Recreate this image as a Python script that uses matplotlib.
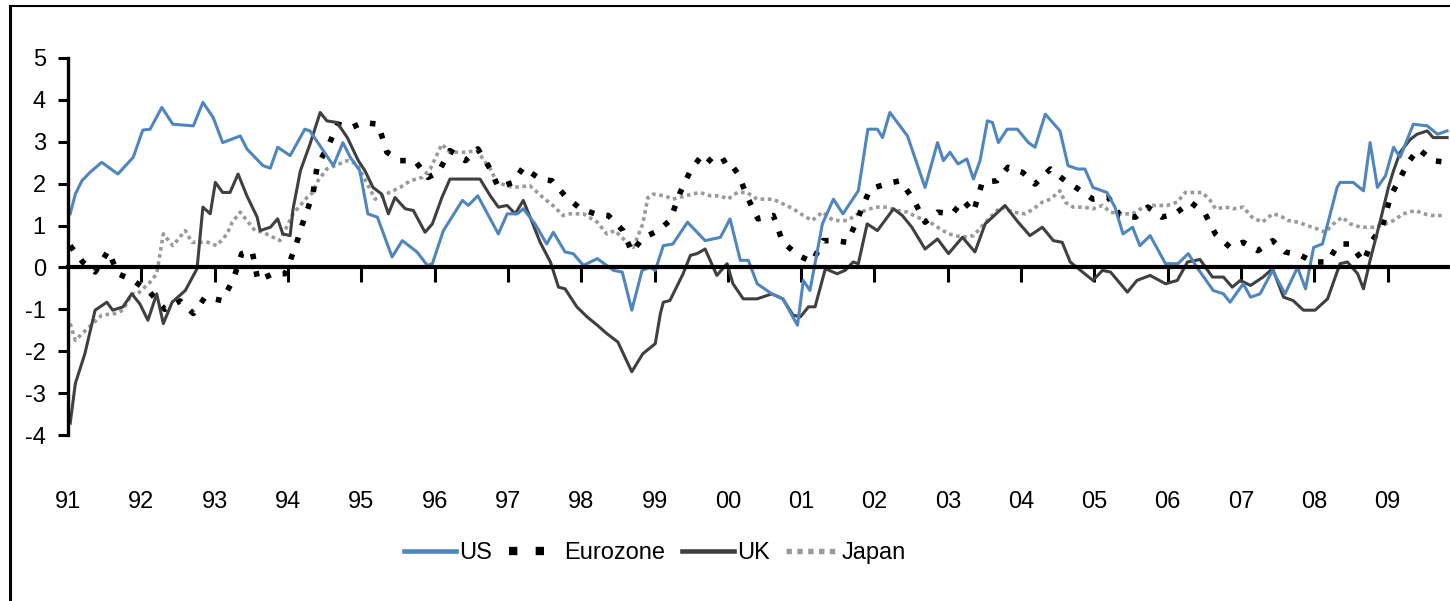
import matplotlib
matplotlib.use("Agg")
import matplotlib.pyplot as plt
from matplotlib.lines import Line2D

plt.rcParams['font.family'] = ['Liberation Sans', 'DejaVu Sans']
plt.rcParams['axes.unicode_minus'] = False

# decimal year, % value
us_t = [1991.03, 1991.10, 1991.19, 1991.30, 1991.46, 1991.68, 1991.89, 1992.02, 1992.12, 1992.28,
        1992.43, 1992.71, 1992.84, 1992.98, 1993.11, 1993.35, 1993.44, 1993.66, 1993.76, 1993.86,
        1994.03, 1994.23, 1994.30, 1994.62, 1994.75, 1994.85, 1994.98, 1995.09, 1995.22, 1995.42,
        1995.56, 1995.76, 1995.90, 1995.97, 1996.12, 1996.38, 1996.46, 1996.59, 1996.87, 1996.99,
        1997.13, 1997.21, 1997.37, 1997.53, 1997.62, 1997.78, 1997.89, 1998.03, 1998.22, 1998.44,
        1998.56, 1998.69, 1998.83, 1998.94, 1999.01, 1999.12, 1999.25, 1999.45, 1999.69, 1999.90,
        2000.03, 2000.17, 2000.28, 2000.40, 2000.60, 2000.75, 2000.95, 2001.03, 2001.12, 2001.29,
        2001.44, 2001.57, 2001.78, 2001.91, 2002.04, 2002.11, 2002.21, 2002.45, 2002.69, 2002.86,
        2002.94, 2003.03, 2003.14, 2003.26, 2003.35, 2003.44, 2003.54, 2003.61, 2003.69, 2003.81,
        2003.95, 2004.10, 2004.19, 2004.33, 2004.53, 2004.64, 2004.77, 2004.87, 2004.98, 2005.17,
        2005.28, 2005.39, 2005.52, 2005.62, 2005.76, 2005.97, 2006.14, 2006.28, 2006.40, 2006.62,
        2006.76, 2006.85, 2007.03, 2007.13, 2007.26, 2007.43, 2007.60, 2007.77, 2007.88, 2007.99,
        2008.11, 2008.31, 2008.35, 2008.53, 2008.67, 2008.76, 2008.86, 2008.97, 2009.08, 2009.17,
        2009.35, 2009.54, 2009.68, 2009.81]
us_v = [1.28, 1.75, 2.07, 2.27, 2.51, 2.23, 2.63, 3.28, 3.30, 3.82,
        3.42, 3.38, 3.94, 3.58, 2.98, 3.14, 2.83, 2.43, 2.37, 2.87,
        2.67, 3.30, 3.26, 2.43, 2.98, 2.63, 2.31, 1.28, 1.20, 0.25,
        0.64, 0.37, 0.05, 0.09, 0.88, 1.60, 1.48, 1.71, 0.80, 1.28,
        1.28, 1.40, 1.04, 0.56, 0.84, 0.37, 0.33, 0.05, 0.21, -0.07,
        -0.11, -1.02, -0.07, 0.0, -0.07, 0.52, 0.56, 1.08, 0.64, 0.72,
        1.16, 0.17, 0.17, -0.39, -0.63, -0.75, -1.38, -0.31, -0.55, 1.04,
        1.63, 1.28, 1.83, 3.30, 3.30, 3.10, 3.70, 3.14, 1.91, 2.98,
        2.55, 2.75, 2.47, 2.59, 2.11, 2.55, 3.50, 3.46, 2.98, 3.30,
        3.30, 2.98, 2.87, 3.66, 3.26, 2.43, 2.35, 2.35, 1.91, 1.79,
        1.44, 0.80, 0.96, 0.52, 0.76, 0.09, 0.09, 0.33, 0.0, -0.55,
        -0.63, -0.83, -0.39, -0.71, -0.63, -0.07, -0.63, 0.0, -0.51, 0.48,
        0.56, 1.91, 2.03, 2.03, 1.83, 2.98, 1.91, 2.19, 2.87, 2.63,
        3.42, 3.38, 3.18, 3.26]

ez_t = [1991.03, 1991.20, 1991.37, 1991.55, 1991.68, 1991.89, 1992.12, 1992.32, 1992.53, 1992.71,
        1992.87, 1993.10, 1993.25, 1993.37, 1993.51, 1993.59, 1993.80, 1993.96, 1994.10, 1994.19,
        1994.34, 1994.40, 1994.55, 1994.68, 1994.87, 1995.02, 1995.23, 1995.35, 1995.53, 1995.73,
        1995.91, 1996.05, 1996.21, 1996.42, 1996.59, 1996.76, 1996.87, 1997.07, 1997.21, 1997.44,
        1997.60, 1997.78, 1997.99, 1998.19, 1998.37, 1998.57, 1998.69, 1998.84, 1999.05, 1999.21,
        1999.35, 1999.49, 1999.66, 1999.83, 1999.99, 2000.14, 2000.28, 2000.41, 2000.62, 2000.75,
        2000.96, 2001.15, 2001.30, 2001.46, 2001.63, 2001.74, 2001.94, 2002.15, 2002.35, 2002.53,
        2002.69, 2002.86, 2003.06, 2003.21, 2003.35, 2003.47, 2003.67, 2003.82, 2004.02, 2004.19,
        2004.40, 2004.60, 2004.78, 2004.98, 2005.19, 2005.35, 2005.56, 2005.73, 2005.92, 2006.10,
        2006.31, 2006.51, 2006.65, 2006.85, 2007.03, 2007.23, 2007.43, 2007.60, 2007.81, 2007.99,
        2008.18, 2008.33, 2008.49, 2008.67, 2008.79, 2008.93, 2009.04, 2009.14, 2009.28, 2009.42,
        2009.61, 2009.81]
ez_v = [0.52, 0.13, -0.11, 0.40, -0.15, -0.31, -0.60, -1.00, -0.80, -1.10,
        -0.71, -0.79, -0.31, 0.33, 0.40, -0.31, -0.15, -0.15, 0.48, 1.00,
        1.75, 2.43, 2.90, 3.42, 3.34, 3.46, 3.42, 2.75, 2.55, 2.55,
        2.15, 2.27, 2.79, 2.55, 2.83, 2.35, 1.91, 2.03, 2.39, 2.11,
        2.07, 1.71, 1.40, 1.28, 1.24, 0.88, 0.37, 0.70, 0.88, 1.12,
        1.79, 2.31, 2.71, 2.43, 2.59, 2.23, 1.63, 1.16, 1.24, 0.60,
        0.29, 0.13, 0.64, 0.64, 0.60, 1.04, 1.87, 1.99, 2.07, 1.63,
        1.08, 1.32, 1.28, 1.60, 1.32, 2.03, 2.07, 2.39, 2.27, 1.99,
        2.35, 2.07, 1.87, 1.63, 1.67, 1.24, 1.20, 1.44, 1.20, 1.28,
        1.56, 1.28, 0.80, 0.48, 0.60, 0.40, 0.64, 0.37, 0.29, 0.13,
        0.13, 0.56, 0.56, 0.13, 0.64, 1.00, 1.71, 2.03, 2.51, 2.83,
        2.55, 2.51]

uk_t = [1991.03, 1991.10, 1991.23, 1991.37, 1991.53, 1991.61, 1991.75, 1991.87, 1991.98, 1992.09,
        1992.21, 1992.30, 1992.42, 1992.60, 1992.76, 1992.84, 1992.94, 1993.01, 1993.11, 1993.21,
        1993.32, 1993.44, 1993.58, 1993.62, 1993.76, 1993.86, 1993.93, 1994.03, 1994.07, 1994.17,
        1994.30, 1994.44, 1994.53, 1994.67, 1994.81, 1994.96, 1995.05, 1995.16, 1995.28, 1995.37,
        1995.46, 1995.60, 1995.71, 1995.87, 1995.97, 1996.10, 1996.21, 1996.35, 1996.62, 1996.76,
        1996.87, 1996.99, 1997.10, 1997.21, 1997.34, 1997.44, 1997.58, 1997.69, 1997.78, 1997.94,
        1998.08, 1998.22, 1998.35, 1998.50, 1998.69, 1998.84, 1999.01, 1999.08, 1999.12, 1999.21,
        1999.39, 1999.49, 1999.58, 1999.69, 1999.85, 1999.99, 2000.07, 2000.21, 2000.40, 2000.60,
        2000.75, 2000.89, 2000.99, 2001.10, 2001.19, 2001.33, 2001.49, 2001.60, 2001.71, 2001.78,
        2001.90, 2002.04, 2002.26, 2002.38, 2002.51, 2002.69, 2002.86, 2003.01, 2003.20, 2003.37,
        2003.51, 2003.61, 2003.78, 2003.96, 2004.12, 2004.29, 2004.44, 2004.56, 2004.67, 2004.81,
        2004.98, 2005.11, 2005.22, 2005.45, 2005.58, 2005.76, 2005.97, 2006.13, 2006.27, 2006.44,
        2006.61, 2006.76, 2006.88, 2006.99, 2007.13, 2007.30, 2007.43, 2007.58, 2007.71, 2007.85,
        2008.01, 2008.18, 2008.35, 2008.45, 2008.59, 2008.67, 2008.76, 2008.90, 2009.01, 2009.08,
        2009.17, 2009.31, 2009.40, 2009.54, 2009.62, 2009.81]
uk_v = [-3.72, -2.77, -2.06, -1.02, -0.83, -1.02, -0.94, -0.63, -0.87, -1.26,
        -0.63, -1.34, -0.83, -0.55, -0.03, 1.44, 1.28, 2.03, 1.79, 1.79,
        2.23, 1.71, 1.20, 0.88, 0.96, 1.16, 0.80, 0.76, 1.40, 2.31,
        2.94, 3.70, 3.50, 3.46, 3.10, 2.55, 2.31, 1.91, 1.75, 1.28,
        1.67, 1.40, 1.36, 0.84, 1.04, 1.67, 2.11, 2.11, 2.11, 1.71,
        1.44, 1.48, 1.28, 1.60, 1.04, 0.60, 0.13, -0.47, -0.51, -0.94,
        -1.18, -1.38, -1.58, -1.78, -2.49, -2.06, -1.82, -1.10, -0.83, -0.79,
        -0.15, 0.29, 0.33, 0.44, -0.19, 0.09, -0.39, -0.75, -0.75, -0.63,
        -0.75, -1.14, -1.18, -0.94, -0.94, -0.03, -0.15, -0.07, 0.13, 0.09,
        1.04, 0.88, 1.40, 1.24, 0.96, 0.44, 0.68, 0.33, 0.72, 0.37,
        1.04, 1.20, 1.48, 1.08, 0.76, 0.96, 0.64, 0.60, 0.13, -0.07,
        -0.31, -0.07, -0.11, -0.59, -0.31, -0.19, -0.39, -0.31, 0.13, 0.19,
        -0.23, -0.23, -0.47, -0.31, -0.43, -0.23, -0.03, -0.71, -0.79, -1.02,
        -1.02, -0.75, 0.09, 0.13, -0.15, -0.51, 0.17, 1.12, 1.91, 2.31,
        2.75, 3.06, 3.18, 3.26, 3.10, 3.10]

jp_t = [1991.03, 1991.10, 1991.27, 1991.46, 1991.64, 1991.75, 1991.87, 1991.95, 1992.12, 1992.21,
        1992.30, 1992.43, 1992.60, 1992.69, 1992.91, 1993.03, 1993.17, 1993.24, 1993.35, 1993.44,
        1993.55, 1993.66, 1993.89, 1994.07, 1994.26, 1994.34, 1994.41, 1994.53, 1994.81, 1994.94,
        1995.19, 1995.53, 1995.67, 1995.83, 1995.94, 1996.10, 1996.21, 1996.42, 1996.58, 1996.76,
        1996.85, 1997.07, 1997.30, 1997.48, 1997.64, 1997.75, 1997.85, 1998.03, 1998.22, 1998.35,
        1998.46, 1998.60, 1998.71, 1998.84, 1998.91, 1998.98, 1999.14, 1999.25, 1999.51, 1999.62,
        1999.76, 1999.90, 2000.00, 2000.13, 2000.26, 2000.40, 2000.62, 2000.75, 2000.89, 2001.03,
        2001.15, 2001.29, 2001.44, 2001.63, 2001.81, 2002.01, 2002.17, 2002.31, 2002.45, 2002.58,
        2002.72, 2002.86, 2003.01, 2003.20, 2003.35, 2003.58, 2003.72, 2003.89, 2004.06, 2004.17,
        2004.29, 2004.40, 2004.53, 2004.60, 2004.71, 2004.85, 2004.98, 2005.11, 2005.22, 2005.35,
        2005.52, 2005.67, 2005.80, 2005.99, 2006.13, 2006.24, 2006.35, 2006.47, 2006.58, 2006.65,
        2006.79, 2006.89, 2007.03, 2007.15, 2007.29, 2007.43, 2007.53, 2007.64, 2007.78, 2007.90,
        2008.04, 2008.15, 2008.26, 2008.38, 2008.49, 2008.63, 2008.74, 2008.83, 2008.97, 2009.08,
        2009.21, 2009.38, 2009.49, 2009.61, 2009.75]
jp_v = [-1.34, -1.74, -1.45, -1.14, -1.10, -1.02, -0.63, -0.63, -0.35, -0.15,
        0.80, 0.52, 0.88, 0.60, 0.60, 0.52, 0.80, 1.08, 1.32, 1.12,
        0.88, 0.84, 0.64, 1.28, 1.67, 1.79, 2.07, 2.35, 2.55, 2.47,
        1.63, 1.91, 2.07, 2.15, 2.35, 2.94, 2.75, 2.75, 2.79, 2.35,
        2.03, 1.91, 1.95, 1.67, 1.44, 1.24, 1.28, 1.28, 1.08, 0.80,
        0.88, 0.64, 0.48, 1.04, 1.67, 1.75, 1.71, 1.63, 1.75, 1.79,
        1.71, 1.71, 1.63, 1.79, 1.79, 1.63, 1.63, 1.52, 1.40, 1.24,
        1.12, 1.32, 1.12, 1.12, 1.32, 1.44, 1.44, 1.36, 1.32, 1.20,
        1.12, 0.96, 0.80, 0.72, 0.76, 1.20, 1.44, 1.32, 1.28, 1.40,
        1.56, 1.63, 1.83, 1.56, 1.44, 1.44, 1.40, 1.48, 1.32, 1.28,
        1.28, 1.44, 1.48, 1.48, 1.56, 1.79, 1.79, 1.79, 1.60, 1.40,
        1.44, 1.40, 1.44, 1.20, 1.08, 1.28, 1.24, 1.12, 1.08, 1.00,
        0.92, 0.84, 1.04, 1.20, 1.04, 0.96, 0.96, 0.96, 1.04, 1.12,
        1.28, 1.36, 1.28, 1.24, 1.24]

years = list(range(1991, 2010))
year_labels = ['91', '92', '93', '94', '95', '96', '97', '98', '99', '00',
               '01', '02', '03', '04', '05', '06', '07', '08', '09']

fig = plt.figure(figsize=(14.5, 6.01), dpi=100)
ax = fig.add_axes([68/1450, 166/601, 1382/1450, 377/601])

ax.plot(jp_t, jp_v, color='#9a9a9a', lw=2.6, dashes=(1, 1), label='Japan')
ax.plot(ez_t, ez_v, color='black', lw=4.0, dashes=(1, 2.2), label='Eurozone')
ax.plot(uk_t, uk_v, color='#404040', lw=2.2, label='UK')
ax.plot(us_t, us_v, color='#4f86c0', lw=2.2, label='US')

ax.set_xlim(1991, 2009.85)
ax.set_ylim(-4, 5)
ax.set_yticks(range(-4, 6))
ax.tick_params(axis='y', direction='out', length=7, width=2.2, pad=9, labelsize=17)

# x axis drawn through zero, labels placed well below the plot
ax.spines['bottom'].set_position(('data', 0))
ax.spines['bottom'].set_linewidth(3)
ax.spines['left'].set_linewidth(2.4)
ax.spines['top'].set_visible(False)
ax.spines['right'].set_visible(False)
ax.set_xticks(years)
ax.tick_params(axis='x', direction='out', length=11, width=2.2, labelbottom=False)
for yr, lab in zip(years, year_labels):
    ax.text(yr, -0.177, lab, transform=ax.get_xaxis_transform(), ha='center', va='center',
            fontsize=17)

handles, labels = ax.get_legend_handles_labels()
order = [3, 1, 2, 0]
leg = fig.legend([handles[i] for i in order], [labels[i] for i in order], loc='center',
                 bbox_to_anchor=(655/1450, 1 - 553/601), ncol=4, frameon=False, fontsize=17,
                 handlelength=2.2, handletextpad=0.15, columnspacing=0.7)
for h in leg.legend_handles:
    h.set_linewidth(h.get_linewidth() * 1.5)

# outer frame (left and top edges only)
fig.add_artist(Line2D([10/1450, 10/1450], [0, 1 - 6/601], transform=fig.transFigure,
                      color='black', lw=2.2))
fig.add_artist(Line2D([10/1450, 1], [1 - 6/601, 1 - 6/601], transform=fig.transFigure,
                      color='black', lw=1.5))

fig.savefig('out.png', dpi=100)
